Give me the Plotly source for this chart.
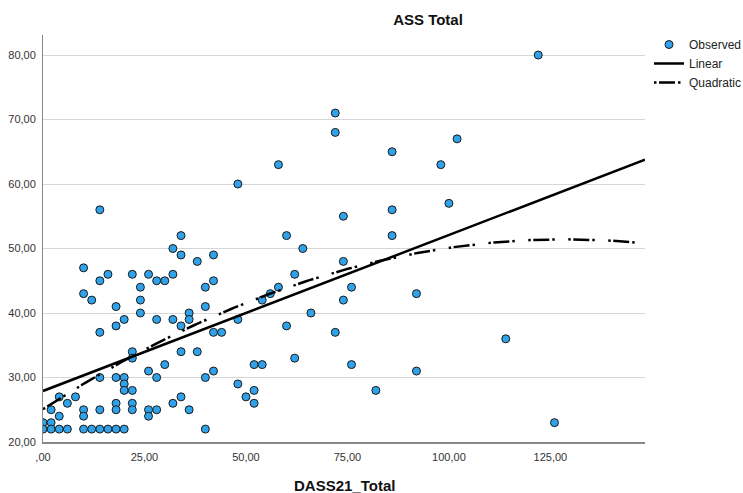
import numpy as np
import plotly.graph_objects as go

# Observed points (DASS21_Total, ASS Total)
dass21_total = [0, 0, 2, 2, 2, 4, 4, 4, 6, 6, 8,
                10, 10, 10, 10, 10, 12, 12, 14, 14, 14, 14, 14, 14, 16, 16,
                18, 18, 18, 18, 18, 18, 20, 20, 20, 20, 20,
                22, 22, 22, 22, 22, 22, 24, 24, 24, 26, 26, 26, 26,
                28, 28, 28, 28, 30, 30, 32, 32, 32, 32, 34, 34, 34, 34, 34,
                36, 36, 36, 38, 38, 40, 40, 40, 40, 42, 42, 42, 42, 44,
                48, 48, 48, 50, 52, 52, 52, 54, 54, 56, 58, 58, 60, 60, 62, 62,
                64, 66, 72, 72, 72, 74, 74, 74, 76, 76, 82, 86, 86, 86,
                92, 92, 98, 100, 102, 114, 122, 126]
ass_total = [23, 22, 25, 23, 22, 27, 24, 22, 26, 22, 27,
             47, 43, 25, 24, 22, 42, 22, 56, 45, 37, 30, 25, 22, 46, 22,
             41, 38, 30, 26, 25, 22, 39, 30, 29, 28, 22,
             46, 34, 33, 28, 26, 25, 44, 42, 40, 46, 31, 25, 24,
             45, 39, 30, 25, 45, 32, 50, 46, 39, 26, 52, 49, 38, 34, 27,
             40, 39, 25, 48, 34, 44, 41, 30, 22, 49, 45, 37, 31, 37,
             60, 39, 29, 27, 32, 28, 26, 42, 32, 43, 63, 44, 52, 38, 46, 33,
             50, 40, 71, 68, 37, 55, 48, 42, 44, 32, 28, 65, 56, 52,
             43, 31, 63, 57, 67, 36, 80, 23]

x_tick_vals = [0, 25, 50, 75, 100, 125]
x_tick_text = [",00", "25,00", "50,00", "75,00", "100,00", "125,00"]
y_tick_vals = [20, 30, 40, 50, 60, 70, 80]
y_tick_text = ["20,00", "30,00", "40,00", "50,00", "60,00", "70,00", "80,00"]

X_MAX = 148.3
Y_MIN, Y_MAX = 20, 83.1

xa = np.array(dass21_total, dtype=float)
ya = np.array(ass_total, dtype=float)
lin = np.polyfit(xa, ya, 1)
quad = np.polyfit(xa, ya, 2)
xs = np.linspace(0, X_MAX, 300)

FONT = "Liberation Sans, Arial, sans-serif"

fig = go.Figure()
fig.add_trace(go.Scatter(
    x=dass21_total, y=ass_total, mode="markers", name="Observed",
    marker=dict(size=8, color="#2fa2ea", line=dict(width=1, color="#1a1a1a")),
))
fig.add_trace(go.Scatter(
    x=xs, y=np.polyval(lin, xs), mode="lines", name="Linear",
    line=dict(color="black", width=2.5),
))
fig.add_trace(go.Scatter(
    x=xs, y=np.polyval(quad, xs), mode="lines", name="Quadratic",
    line=dict(color="black", width=2.5, dash="2.5px,2.5px,16px,3px,2.5px,13.5px"),
))

fig.update_layout(
    width=743, height=493,
    margin=dict(l=43, r=98, t=35, b=51, autoexpand=False),
    paper_bgcolor="white", plot_bgcolor="white",
    font=dict(family=FONT, size=11, color="#333333"),
    title=dict(text="<b>ASS Total</b>", x=428 / 743, xref="container", xanchor="center",
               y=1 - 20 / 493, yref="container", yanchor="middle",
               font=dict(family=FONT, size=15, color="#111111")),
    showlegend=True,
    legend=dict(x=649 / 743, xref="container", xanchor="left",
                y=1 - 30 / 493, yref="container", yanchor="top",
                font=dict(family=FONT, size=12, color="#222222"),
                bgcolor="rgba(0,0,0,0)"),
    xaxis=dict(range=[0, X_MAX], tickvals=x_tick_vals, ticktext=x_tick_text,
               showgrid=False, zeroline=False, showline=True, linecolor="#888888",
               linewidth=1.5, ticks="", ticklabelstandoff=4),
    yaxis=dict(range=[Y_MIN, Y_MAX], tickvals=y_tick_vals, ticktext=y_tick_text,
               showgrid=True, gridcolor="#d6d6d6", gridwidth=1, zeroline=False,
               showline=True, linecolor="#888888", linewidth=1, ticks="",
               ticklabelstandoff=4),
    annotations=[dict(text="<b>DASS21_Total</b>", x=0.5, xref="paper",
                      y=-(485 - 442) / (442 - 35), yref="paper",
                      xanchor="center", yanchor="middle", showarrow=False,
                      font=dict(family=FONT, size=15, color="#111111"))],
)

fig.write_html("out.html")
